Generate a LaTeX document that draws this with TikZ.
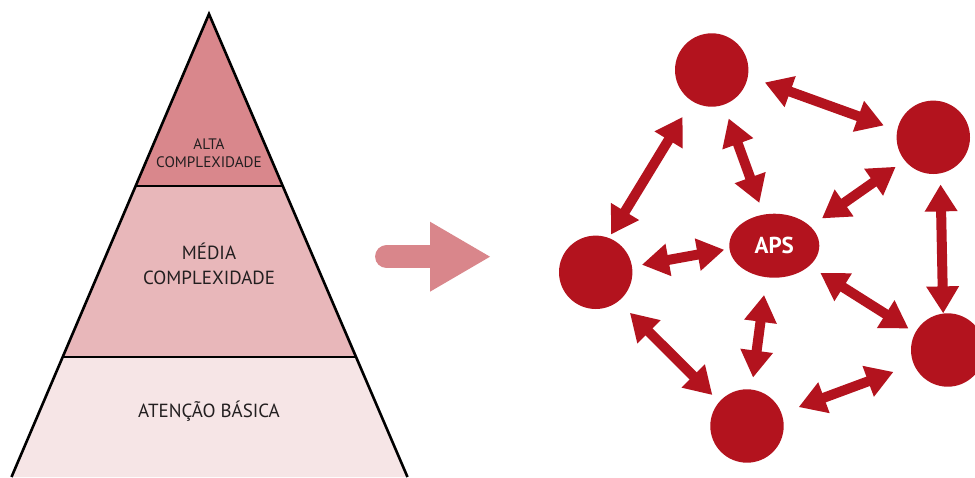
\documentclass[tikz,border=0pt]{standalone}
\usepackage{fontspec}
\setmainfont{PT Sans}
\usetikzlibrary{arrows.meta}
\definecolor{netred}{HTML}{B3131E}
\definecolor{toppink}{HTML}{D9878C}
\definecolor{midpink}{HTML}{E8B7BA}
\definecolor{lowpink}{HTML}{F6E5E6}
\definecolor{arrowpink}{HTML}{D9868B}
\definecolor{txt}{HTML}{231F20}
\tikzset{
  band/.style={draw=black, line width=2.6pt, line join=miter},
  ring/.style={circle, fill=netred, minimum size=73.4pt, inner sep=0pt},
  apsnode/.style={ellipse, fill=netred, minimum width=90pt, minimum height=64pt, inner sep=0pt, text=white, font=\fontsize{23}{26}\selectfont\bfseries},
  biarrow/.style={draw=netred, line width=10pt, {Triangle[length=27pt,width=31pt]}-{Triangle[length=27pt,width=31pt]}},
  smalltxt/.style={align=center, text=txt, font=\fontsize{15.2}{18}\selectfont},
  bigtxt/.style={align=center, text=txt, font=\fontsize{19}{25}\selectfont}
}
\usetikzlibrary{shapes.geometric}
\begin{document}
\begin{tikzpicture}[x=1pt,y=-1pt]
\useasboundingbox (0,0) rectangle (975,477);
\clip (0,0) rectangle (975,477);
% pyramid
\coordinate (apex) at (209,14);
\coordinate (l1) at (135.7,186);
\coordinate (r1) at (282.7,186);
\coordinate (l2) at (62.7,357);
\coordinate (r2) at (356,357);
\coordinate (l3) at (11.5,477);
\coordinate (r3) at (407.5,477);
\fill[lowpink] (l2) -- (r2) -- (r3) -- (l3) -- cycle;
\fill[midpink] (l1) -- (r1) -- (r2) -- (l2) -- cycle;
\fill[toppink] (apex) -- (r1) -- (l1) -- cycle;
\draw[band] (l3) -- (apex) -- (r3);
\draw[band] (l1) -- (r1);
\draw[band] (l2) -- (r2);
\node[smalltxt] (alta) at (209,153) {ALTA\\COMPLEXIDADE};
\node[bigtxt] (media) at (209,263.5) {MÉDIA\\COMPLEXIDADE};
\node[bigtxt] (basica) at (209,411) {ATENÇÃO BÁSICA};
% pink arrow
\draw[arrowpink, line width=23.3pt, line cap=round] (386.7,256.7) -- (432,256.7);
\fill[arrowpink] (430,221.7) -- (490,256.7) -- (430,291.7) -- cycle;
% network
\node[ring] (T) at (711.7,70) {};
\node[ring] (RT) at (933.3,137.3) {};
\node[ring] (L) at (595.7,272.3) {};
\node[ring] (B) at (747,426) {};
\node[ring] (RB) at (947.7,350) {};
\node[apsnode] (A) at (774.3,245.7) {APS};
\draw[biarrow, shorten <=17.8pt, shorten >=14.1pt] (T.-10.6) -- (RT.169.8);
\draw[biarrow, shorten <=18.3pt, shorten >=3.9pt] (T.238.2) -- (L.69.4);
\draw[biarrow, shorten <=14.4pt, shorten >=12.2pt] (T.-71) -- (A.109.8);
\draw[biarrow, shorten <=10.9pt, shorten >=14pt] (RT.219.7) -- (A.28);
\draw[biarrow, shorten <=9.9pt, shorten >=5.1pt] (L.9) -- (A.184.9);
\draw[biarrow, shorten <=17.7pt, shorten >=11.9pt] (A.-104.5) -- (B.83.7);
\draw[biarrow, shorten <=12.9pt, shorten >=7.8pt] (A.-30.6) -- (RB.152.3);
\draw[biarrow, shorten <=10.9pt, shorten >=0pt] (RT.-79.1) -- (RB.97);
\draw[biarrow, shorten <=16.2pt, shorten >=9.6pt] (L.-52) -- (B.139.6);
\draw[biarrow, shorten <=18.1pt, shorten >=21.6pt] (B.20.6) -- (RB.203.6);
\end{tikzpicture}
\end{document}
